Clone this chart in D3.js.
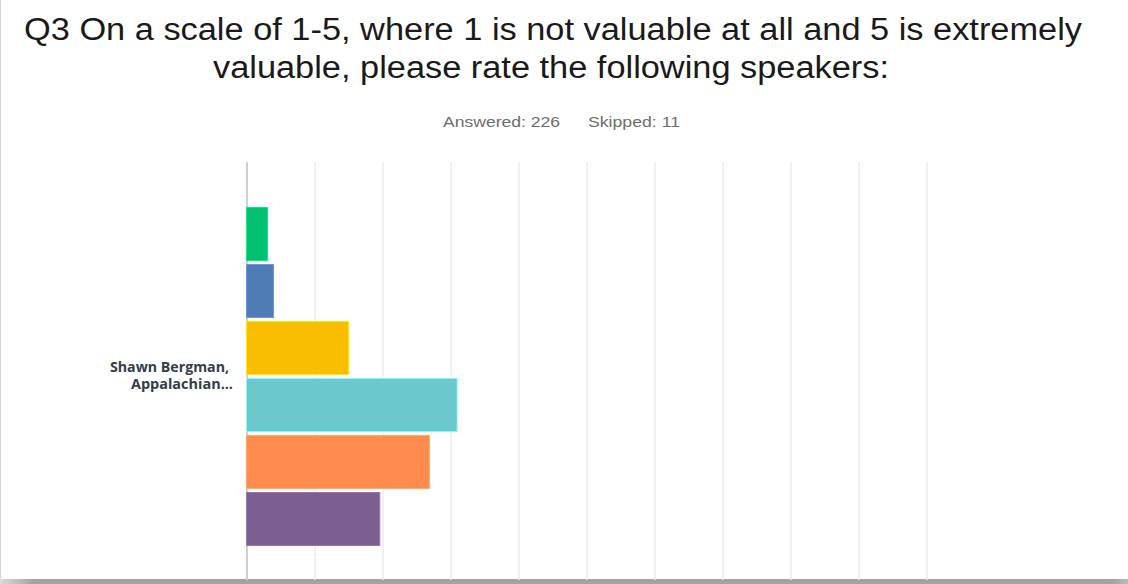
<!DOCTYPE html>
<html>
<head>
<meta charset="utf-8">
<script src="https://cdn.jsdelivr.net/npm/d3@7"></script>
<style>
  html, body { margin: 0; padding: 0; background: #fff; }
  svg { display: block; }
</style>
</head>
<body>
<svg id="chart" width="1128" height="584"></svg>
<script>
// ---- data ----
const titleLines = [
  "Q3 On a scale of 1-5, where 1 is not valuable at all and 5 is extremely",
  "valuable, please rate the following speakers:"
];
const answered = "Answered: 226";
const skipped = "Skipped: 11";
const categoryLabel = ["Shawn Bergman,", "Appalachian..."];
const answerChoices = ["1", "2", "3", "4", "5", "N/A"];
const shares = [0.0310, 0.0398, 0.1504, 0.3097, 0.2690, 0.1960];
const barColors = ["#00bf6f", "#507cb6", "#f9be00", "#6bc8cd", "#ff8b4f", "#7d5e90"];
const gridTicks = [0, 0.1, 0.2, 0.3, 0.4, 0.5, 0.6, 0.7, 0.8, 0.9, 1.0];

const svg = d3.select("#chart");
const W = 1128, H = 584;

// frame: left border + bottom shadow band
svg.append("line").attr("x1", 0.5).attr("x2", 0.5).attr("y1", 0).attr("y2", 579)
  .attr("stroke", "#d4d4d4").attr("stroke-width", 1);
const grad = svg.append("defs").append("linearGradient").attr("id", "band")
  .attr("x1", "0").attr("x2", "1").attr("y1", "0").attr("y2", "0");
grad.append("stop").attr("offset", "0").attr("stop-color", "#dcdcdc");
grad.append("stop").attr("offset", "0.03").attr("stop-color", "#a2a2a2");
grad.append("stop").attr("offset", "0.985").attr("stop-color", "#a2a2a2");
grad.append("stop").attr("offset", "1").attr("stop-color", "#b8b8b8");
svg.append("rect").attr("x", 0).attr("y", 579).attr("width", W).attr("height", 5)
  .attr("fill", "url(#band)");

// title (source is horizontally stretched: fit to measured widths)
const titleWidths = [1058, 676];
svg.append("g").selectAll("text").data(titleLines).join("text")
  .attr("x", (d, i) => [24, 213][i]).attr("y", (d, i) => 40 + i * 38)
  .attr("font-family", "'Liberation Sans', Arial, sans-serif")
  .attr("font-size", 31)
  .attr("fill", "#1a1a1a")
  .attr("textLength", (d, i) => titleWidths[i])
  .attr("lengthAdjust", "spacingAndGlyphs")
  .text(d => d);

// subtitle
svg.append("text").attr("x", 443).attr("y", 127)
  .attr("font-family", "'Liberation Sans', Arial, sans-serif")
  .attr("font-size", 15).attr("fill", "#6d6d6d")
  .attr("textLength", 117).attr("lengthAdjust", "spacingAndGlyphs").text(answered);
svg.append("text").attr("x", 588).attr("y", 127)
  .attr("font-family", "'Liberation Sans', Arial, sans-serif")
  .attr("font-size", 15).attr("fill", "#6d6d6d")
  .attr("textLength", 92).attr("lengthAdjust", "spacingAndGlyphs").text(skipped);

// scales
const x = d3.scaleLinear().domain([0, 1]).range([246.5, 926.5]);
const y = d3.scaleBand().domain(answerChoices).range([207.5, 545.5])
  .paddingInner(0.07).paddingOuter(0);

// gridlines via axis
const grid = svg.append("g").attr("transform", "translate(0,162)")
  .call(d3.axisBottom(x).tickValues(gridTicks).tickSize(418).tickFormat(""));
grid.select(".domain").remove();
grid.selectAll(".tick line")
  .attr("stroke", (d) => d === 0 ? "#cfcfcf" : "#ebebeb")
  .attr("stroke-width", (d) => d === 0 ? 2 : 1.5);

// bars
svg.append("g").selectAll("rect").data(answerChoices).join("rect")
  .attr("x", x(0))
  .attr("y", d => y(d))
  .attr("width", (d, i) => x(shares[i]) - x(0))
  .attr("height", y.bandwidth())
  .attr("fill", (d, i) => barColors[i])
  .attr("stroke", (d, i) => d3.color(barColors[i]).brighter(0.6))
  .attr("stroke-width", 1);

// category label
const labelX = [110, 131], labelW = [119, 102];
svg.append("g").selectAll("text").data(categoryLabel).join("text")
  .attr("x", (d, i) => labelX[i]).attr("y", (d, i) => 372 + i * 17)
  .attr("font-family", "'Open Sans', Lato, sans-serif")
  .attr("font-weight", "bold")
  .attr("font-size", 14)
  .attr("fill", "#333e48")
  .attr("textLength", (d, i) => labelW[i])
  .attr("lengthAdjust", "spacingAndGlyphs")
  .text(d => d);
</script>
</body>
</html>
